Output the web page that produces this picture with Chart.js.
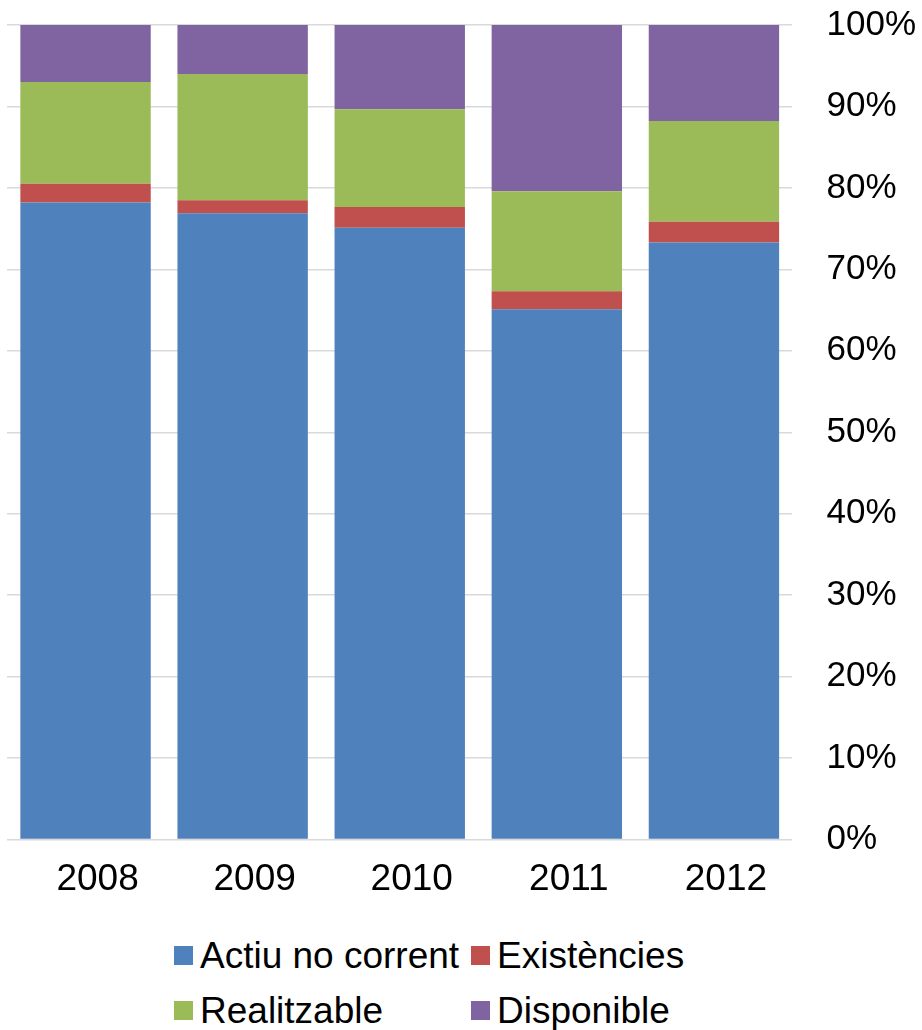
<!DOCTYPE html>
<html>
<head>
<meta charset="utf-8">
<script src="https://cdn.jsdelivr.net/npm/chart.js@4.4.1/dist/chart.umd.min.js"></script>
<style>
  body { margin: 0; background: #fff; font-family: "Liberation Sans", Arial, sans-serif; }
  #wrap { position: relative; width: 922px; height: 1030px; }
  #box { position: absolute; left: 0; top: 0; width: 922px; height: 920px; }
  #legend { position: absolute; left: 174px; top: 928px; display: grid; grid-template-columns: 297px auto; row-gap: 0; }
  .item { display: flex; align-items: center; height: 55px; font-size: 37px; color: #000; white-space: nowrap; }
  .swatch { width: 19px; height: 19px; margin-right: 7px; flex: none; }
</style>
</head>
<body>
<div id="wrap">
  <div id="box"><canvas id="chart"></canvas></div>
  <div id="legend"></div>
</div>
<script>
const years = ["2008", "2009", "2010", "2011", "2012"];
const actiuNoCorrent = [78.2, 76.9, 75.1, 65.1, 73.3];
const existencies = [2.3, 1.6, 2.55, 2.2, 2.55];
const realitzable = [12.5, 15.5, 12.0, 12.3, 12.35];
const disponible = [7.0, 6.0, 10.35, 20.4, 11.8];
const yTicks = [0, 10, 20, 30, 40, 50, 60, 70, 80, 90, 100];

const series = [
    { label: "Actiu no corrent", data: actiuNoCorrent, color: "#4f81bd" },
    { label: "Existències", data: existencies, color: "#c0504d" },
    { label: "Realitzable", data: realitzable, color: "#9bbb59" },
    { label: "Disponible", data: disponible, color: "#8064a2" }
];

const ctx = document.getElementById("chart").getContext("2d");

const myChart = new Chart(ctx, {
    type: "bar",
    data: {
        labels: years,
        datasets: series.map(s => ({
            label: s.label,
            data: s.data,
            backgroundColor: s.color,
            borderWidth: 0,
            barPercentage: 1,
            categoryPercentage: 0.83
        }))
    },
    options: {
        responsive: true,
        maintainAspectRatio: false,
        animation: false,
        layout: { padding: { left: 7, right: 4, top: 25, bottom: 0 } },
        plugins: {
            legend: { display: false },
            tooltip: { enabled: false }
        },
        scales: {
            x: {
                stacked: true,
                grid: { display: false, drawTicks: false },
                border: { display: false },
                ticks: {
                    color: "#000",
                    padding: 18,
                    labelOffset: 12,
                    font: { family: "Liberation Sans", size: 37 }
                }
            },
            y: {
                stacked: true,
                position: "right",
                min: 0,
                max: 100,
                afterBuildTicks: axis => {
                    axis.ticks = yTicks.map(v => ({ value: v }));
                },
                // tick marks kept invisible, only used as the gap before the labels
                grid: { color: "#d9d9d9", lineWidth: 1.5, drawTicks: true, tickLength: 32, tickColor: "rgba(0,0,0,0)" },
                border: { display: false },
                ticks: {
                    color: "#000",
                    padding: 2,
                    callback: v => v + "%",
                    font: { family: "Liberation Sans", size: 35 }
                }
            }
        }
    }
});

// legend in two aligned columns
const legend = document.getElementById("legend");
myChart.data.datasets.forEach(ds => {
    const item = document.createElement("div");
    item.className = "item";
    const sw = document.createElement("span");
    sw.className = "swatch";
    sw.style.background = ds.backgroundColor;
    item.append(sw);
    item.append(ds.label);
    legend.append(item);
});
</script>
</body>
</html>
